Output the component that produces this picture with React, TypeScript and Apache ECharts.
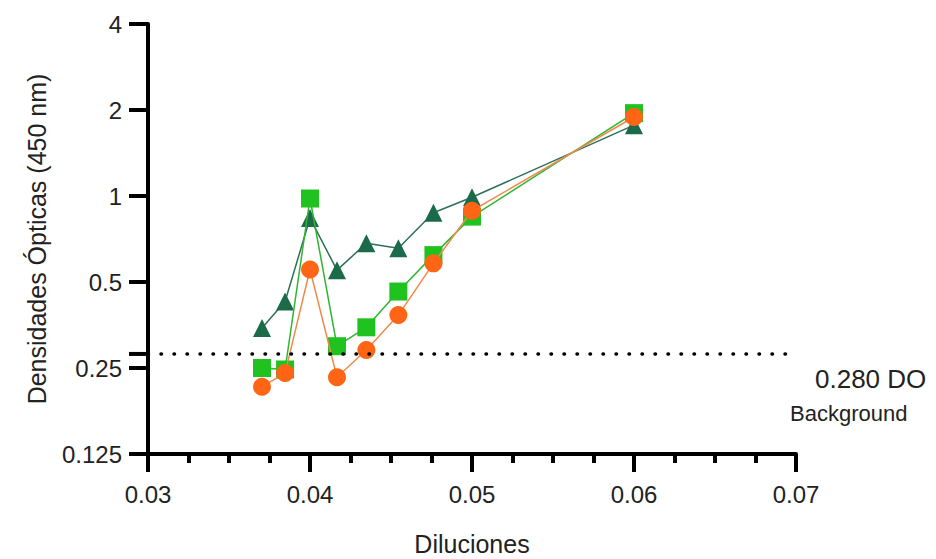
import React, { useEffect, useRef } from "react";
import * as echarts from "echarts";

const dilutions = [1 / 27, 1 / 26, 1 / 25, 1 / 24, 1 / 23, 1 / 22, 1 / 21, 1 / 20, 0.06];
const triangleValues = [0.345, 0.427, 0.837, 0.55, 0.683, 0.656, 0.874, 0.99, 1.77];
const squareValues = [0.25, 0.247, 0.98, 0.298, 0.347, 0.463, 0.621, 0.847, 1.95];
const circleValues = [0.215, 0.24, 0.553, 0.232, 0.289, 0.383, 0.581, 0.888, 1.89];
const backgroundLevel = 0.28;
const xTicks = [0.03, 0.04, 0.05, 0.06, 0.07];
const yTicks = [0.125, 0.25, 0.5, 1, 2, 4];

const FONT = "Liberation Sans, Arial, sans-serif";

export default function App() {
  const ref = useRef<HTMLDivElement>(null);
  useEffect(() => {
    if (!ref.current) return;
    const chart = echarts.init(ref.current, undefined, { renderer: "svg" });
    const pair = (vals: number[]) => dilutions.map((d, i) => [d, vals[i]]);
    chart.setOption({
      animation: false,
      backgroundColor: "#ffffff",
      grid: { left: 140, right: 140, top: 16, bottom: 105, containLabel: false, outerBoundsMode: "none" },
      xAxis: {
        type: "value",
        min: xTicks[0],
        max: xTicks[xTicks.length - 1],
        interval: 0.01,
        name: "Diluciones",
        nameLocation: "middle",
        nameGap: 77,
        nameTextStyle: { fontFamily: FONT, fontSize: 25, lineHeight: 25, color: "#222" },
        axisLine: { show: true, onZero: false, lineStyle: { color: "#000", width: 4 } },
        axisTick: { show: true, length: 18, lineStyle: { color: "#000", width: 4 } },
        minorTick: { show: true, splitNumber: 4, length: 9, lineStyle: { color: "#000", width: 4 } },
        axisLabel: { fontFamily: FONT, fontSize: 24, color: "#222", margin: 28, formatter: (v: number) => String(+v.toFixed(2)) },
        splitLine: { show: false },
      },
      yAxis: {
        type: "log",
        logBase: 2,
        min: yTicks[0],
        max: yTicks[yTicks.length - 1],
        name: "Densidades Ópticas (450 nm)",
        nameLocation: "middle",
        nameGap: 99,
        nameTextStyle: { fontFamily: FONT, fontSize: 25, color: "#222" },
        axisLine: { show: true, onZero: false, lineStyle: { color: "#000", width: 4 } },
        axisTick: { show: true, length: 19, lineStyle: { color: "#000", width: 4 } },
        axisLabel: { fontFamily: FONT, fontSize: 24, color: "#222", margin: 26, formatter: (v: number) => String(+v.toFixed(3)) },
        splitLine: { show: false },
      },
      series: [
        {
          type: "line",
          data: pair(triangleValues),
          symbol: "triangle",
          symbolSize: 18,
          itemStyle: { color: "#1b6a4a" },
          lineStyle: { color: "#2e6e5a", width: 1.5 },
          z: 2,
          markLine: {
            silent: true,
            symbol: "none",
            label: { show: false },
            lineStyle: { color: "#000", width: 3.5, type: [0.5, 12.5], cap: "round" },
            data: [{ yAxis: backgroundLevel }],
          },
        },
        {
          type: "line",
          data: pair(squareValues),
          symbol: "rect",
          symbolSize: 18,
          itemStyle: { color: "#1fc21f" },
          lineStyle: { color: "#2fb52f", width: 1.5 },
          z: 3,
        },
        {
          type: "line",
          data: pair(circleValues),
          symbol: "circle",
          symbolSize: 18,
          itemStyle: { color: "#ff6515" },
          lineStyle: { color: "#f08a4a", width: 1.5 },
          z: 4,
        },
      ],
    });
    const p = chart.convertToPixel({ gridIndex: 0 }, [xTicks[0], backgroundLevel]) as number[];
    chart.setOption({
      graphic: [
        { type: "line", shape: { x1: p[0] - 19, y1: p[1], x2: p[0], y2: p[1] }, style: { stroke: "#000", lineWidth: 4 } },
        { type: "text", x: 807, y: 371, style: { text: "0.280 DO", font: `26px ${FONT}`, fill: "#222", textVerticalAlign: "middle" } },
        { type: "text", x: 782, y: 405, style: { text: "Background", font: `22px ${FONT}`, fill: "#222", textVerticalAlign: "middle" } },
      ],
    });
    return () => chart.dispose();
  }, []);
  return <div ref={ref} style={{ width: 928, height: 551 }} />;
}
